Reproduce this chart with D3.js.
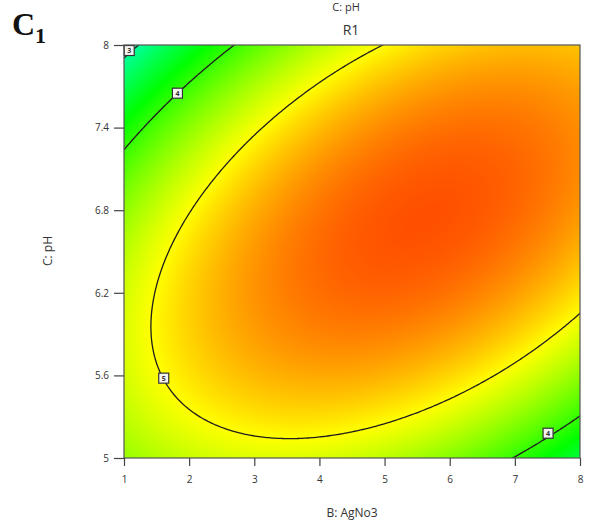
<!DOCTYPE html>
<html>
<head>
<meta charset="utf-8" />
<title>C1 - R1</title>
<style>
  body { margin: 0; background: #fff; }
</style>
</head>
<body>
<svg width=589 height=528></svg>
<script src="https://cdn.jsdelivr.net/npm/d3@7/dist/d3.min.js"></script>
<script>
// quadratic model of R1, coded factors (b = (B-4.5)/3.5, c = (C-6.5)/1.5)
var coefTerms  = ['1', 'b', 'c', 'bc', 'b2', 'c2'];
var coefValues = [5.800, 0.357, 0.045, 0.873, -0.793, -0.997];

var levels = [3, 4, 5];
var labelB  = [1.08, 1.82, 1.61, 7.51];
var labelPH = [7.96, 7.65, 5.58, 5.18];
var labelText = ['3', '4', '5', '4'];
var xTicks = [1, 2, 3, 4, 5, 6, 7, 8];
var yTicks = [5, 5.6, 6.2, 6.8, 7.4, 8];

function model(B, C) {
    var b = (B - 4.5) / 3.5, c = (C - 6.5) / 1.5;
    var t = [1, b, c, b * c, b * b, c * c];
    return d3.sum(t, function (v, i) { return v * coefValues[i]; });
}

var x = d3.scaleLinear().domain([1, 8]).range([124, 580]);
var y = d3.scaleLinear().domain([5, 8]).range([458, 45]);

var color = d3.scaleLinear()
    .domain([2.5, 3.75, 5.0, 6.25])
    .range(['#00ffff', '#00ff00', '#ffff00', '#ff0000'])
    .clamp(true);

var svg = d3.select('svg');

// heat map
var w = 456, h = 413;
var canvas = document.createElement('canvas');
canvas.width = w; canvas.height = h;
var ctx = canvas.getContext('2d');
var img = ctx.createImageData(w, h);
for (var j = 0; j < h; j++) {
    for (var i = 0; i < w; i++) {
        var c = d3.rgb(color(model(x.invert(124 + i + 0.5), y.invert(45 + j + 0.5))));
        var o = (j * w + i) * 4;
        img.data[o] = c.r; img.data[o + 1] = c.g; img.data[o + 2] = c.b; img.data[o + 3] = 255;
    }
}
ctx.putImageData(img, 0, 0);
svg.append('image')
    .attr('x', 124).attr('y', 45)
    .attr('width', w).attr('height', h)
    .attr('href', canvas.toDataURL());

svg.append('clipPath').attr('id', 'plot')
    .append('rect').attr('x', 124).attr('y', 45).attr('width', w).attr('height', h);

// contour lines
var nx = 240, ny = 220, pad = 3;
var dB = 7 / (nx - 1 - 2 * pad), dC = 3 / (ny - 1 - 2 * pad);
var grid = new Array(nx * ny);
for (var j = 0; j < ny; j++)
    for (var i = 0; i < nx; i++)
        grid[j * nx + i] = model(1 + (i - pad) * dB, 8 - (j - pad) * dC);

var contours = d3.contours().size([nx, ny]).thresholds(levels)(grid);
var proj = d3.geoTransform({
    point: function (u, v) {
        this.stream.point(x(1 + (u - 0.5 - pad) * dB), y(8 - (v - 0.5 - pad) * dC));
    }
});
svg.append('g').attr('clip-path', 'url(#plot)')
    .selectAll('path').data(contours).enter()
    .append('path')
    .attr('d', d3.geoPath(proj))
    .attr('fill', 'none')
    .attr('stroke', '#1e1e1e')
    .attr('stroke-width', 1.3);

// contour labels
var lab = svg.append('g').selectAll('g').data(labelText).enter().append('g')
    .attr('transform', function (d, i) { return 'translate(' + x(labelB[i]) + ',' + y(labelPH[i]) + ')'; });
lab.append('rect').attr('x', -5).attr('y', -5).attr('width', 10).attr('height', 10)
    .attr('fill', '#f4f4f4').attr('stroke', '#333').attr('stroke-width', 1.2);
lab.append('text').attr('text-anchor', 'middle').attr('dy', '0.35em')
    .style('font-family', '"Open Sans", sans-serif')
    .attr('font-size', 7).attr('font-weight', 'bold').attr('fill', '#333')
    .text(function (d) { return d; });

// frame
svg.append('rect').attr('x', 124).attr('y', 45).attr('width', w).attr('height', h)
    .attr('fill', 'none').attr('stroke', '#555').attr('stroke-width', 1.2);

// axes
var xa = svg.append('g').attr('transform', 'translate(0,458)')
    .call(d3.axisBottom(x).tickValues(xTicks).tickSize(8).tickPadding(10).tickSizeOuter(0)
        .tickFormat(function (d) { return d; }));
var ya = svg.append('g').attr('transform', 'translate(124,0)')
    .call(d3.axisLeft(y).tickValues(yTicks).tickSize(10).tickPadding(5).tickSizeOuter(0)
        .tickFormat(function (d) { return d; }));
[xa, ya].forEach(function (a) {
    a.select('.domain').remove();
    a.selectAll('line').attr('stroke', '#444').attr('stroke-width', 1.2);
    a.selectAll('text').style('font-family', '"Open Sans", sans-serif')
        .attr('font-size', 10).attr('fill', '#333');
});

// titles
function label(t) {
    return svg.append('text').style('font-family', '"Open Sans", sans-serif')
        .attr('text-anchor', 'middle').attr('fill', '#333').text(t);
}
label('B: AgNo3').attr('x', 352).attr('y', 517).attr('font-size', 12);
label('C: pH').attr('transform', 'translate(52,251) rotate(-90)').attr('font-size', 12);
label('C: pH').attr('x', 346).attr('y', 11).attr('font-size', 11);
label('R1').attr('x', 351).attr('y', 35).attr('font-size', 14);

var cl = svg.append('text').attr('x', 12).attr('y', 35)
    .style('font-family', '"Liberation Serif", "Times New Roman", serif')
    .attr('font-weight', 'bold').attr('font-size', 32).attr('fill', '#111');
cl.append('tspan').text('C');
cl.append('tspan').attr('font-size', 22).attr('dy', 8).text('1');
</script>
</body>
</html>
